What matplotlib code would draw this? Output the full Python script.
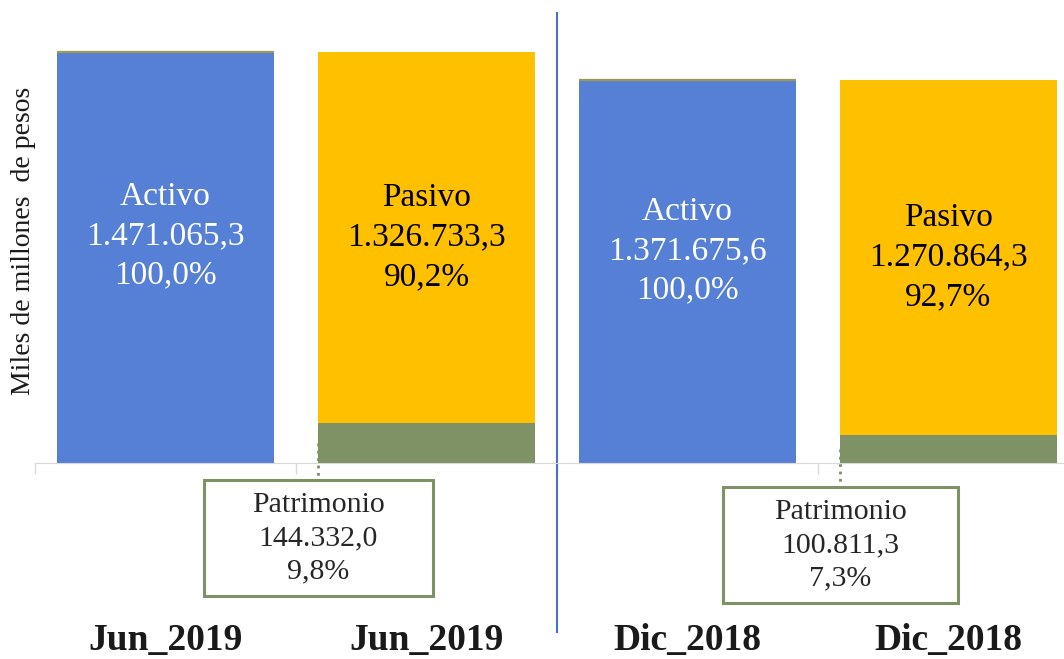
import numpy as np
import matplotlib
matplotlib.use("Agg")
import matplotlib.pyplot as plt
from matplotlib.patches import Rectangle

plt.rcParams['font.family'] = ['Liberation Serif', 'DejaVu Serif']

categories = ["Jun_2019", "Jun_2019", "Dic_2018", "Dic_2018"]
activo = [1471065.3, 1371675.6]
pasivo = [1326733.3, 1270864.3]
patrimonio = [144332.0, 100811.3]
activo_pct = [100.0, 100.0]
pasivo_pct = [90.2, 92.7]
patrimonio_pct = [9.8, 7.3]

BLUE = "#5680d6"
YELLOW = "#ffc000"
GREEN = "#7f9265"


def es_num(v):
    s = f"{v:,.1f}"
    return s.replace(",", "X").replace(".", ",").replace("X", ".")


def es_pct(v):
    return f"{v:.1f}".replace(".", ",") + "%"


fig = plt.figure(figsize=(10.64, 6.59), dpi=100)
ax = fig.add_axes([35 / 1064, 196 / 659, 1044 / 1064, 432 / 659])

x = np.arange(len(categories))
xa = x[[0, 2]]
xp = x[[1, 3]]
w = 0.83

ax.bar(xa, activo, width=w, color=BLUE)
ax.hlines(activo, xa - w / 2, xa + w / 2, color="#9a9a50", lw=1.6)
ax.bar(xp, patrimonio, width=w, color=GREEN)
ax.bar(xp, pasivo, width=w, bottom=patrimonio, color=YELLOW)

ax.set_xlim(-0.5, 3.5)
ax.set_ylim(0, 1546000)

# labels inside the bars
for xi, v, p in zip(xa, activo, activo_pct):
    ax.text(xi, v * 0.553, f"Activo\n{es_num(v)}\n{es_pct(p)}", ha="center",
            va="center", color="white", fontsize=24, linespacing=1.38)
for xi, v, b, p in zip(xp, pasivo, patrimonio, pasivo_pct):
    ax.text(xi, b + v / 2, f"Pasivo\n{es_num(v)}\n{es_pct(p)}", ha="center",
            va="center", color="black", fontsize=24, linespacing=1.38)

# callout boxes for Patrimonio
upp = 1546000 / 432  # data units per pixel
box_top = [-17 * upp, -24 * upp]
box_h = 116 * upp
box_w = [229 / 261, 235 / 261]
for xi, v, p, top, bw in zip(xp, patrimonio, patrimonio_pct, box_top, box_w):
    xl = xi - w / 2
    ax.plot([xl, xl], [v / 2, top], ls=":", color=GREEN, lw=2, clip_on=False)
    ax.add_patch(Rectangle((xl - bw / 2, top - box_h), bw, box_h, fill=False,
                           ec=GREEN, lw=2.2, clip_on=False))
    ax.text(xl, top - box_h / 2, f"Patrimonio\n{es_num(v)}\n{es_pct(p)}",
            ha="center", va="center", color="#262626", fontsize=21.5,
            linespacing=1.36, clip_on=False)

# separator line between periods
ax.axvline(1.5, ymin=-0.391, ymax=1.042, color="#4472c4", lw=1.5, clip_on=False)

for s in ["left", "top", "right"]:
    ax.spines[s].set_visible(False)
ax.spines["bottom"].set_color("#d9d9d9")
ax.set_yticks([])
ax.set_xticks(x)
ax.set_xticklabels(categories, fontsize=27, fontweight="bold", color="#1a1a1a")
ax.tick_params(axis="x", which="major", length=0, pad=115)
ax.set_xticks([-0.5, 0.5, 1.5, 2.5], minor=True)
ax.tick_params(axis="x", which="minor", length=8, color="#d9d9d9", width=1)

fig.text(24 / 1064, (659 - 241) / 659, "Miles de millones  de pesos",
         rotation=90, ha="center", va="center", fontsize=20, color="#1a1a1a")

fig.savefig("out.png", dpi=100)
